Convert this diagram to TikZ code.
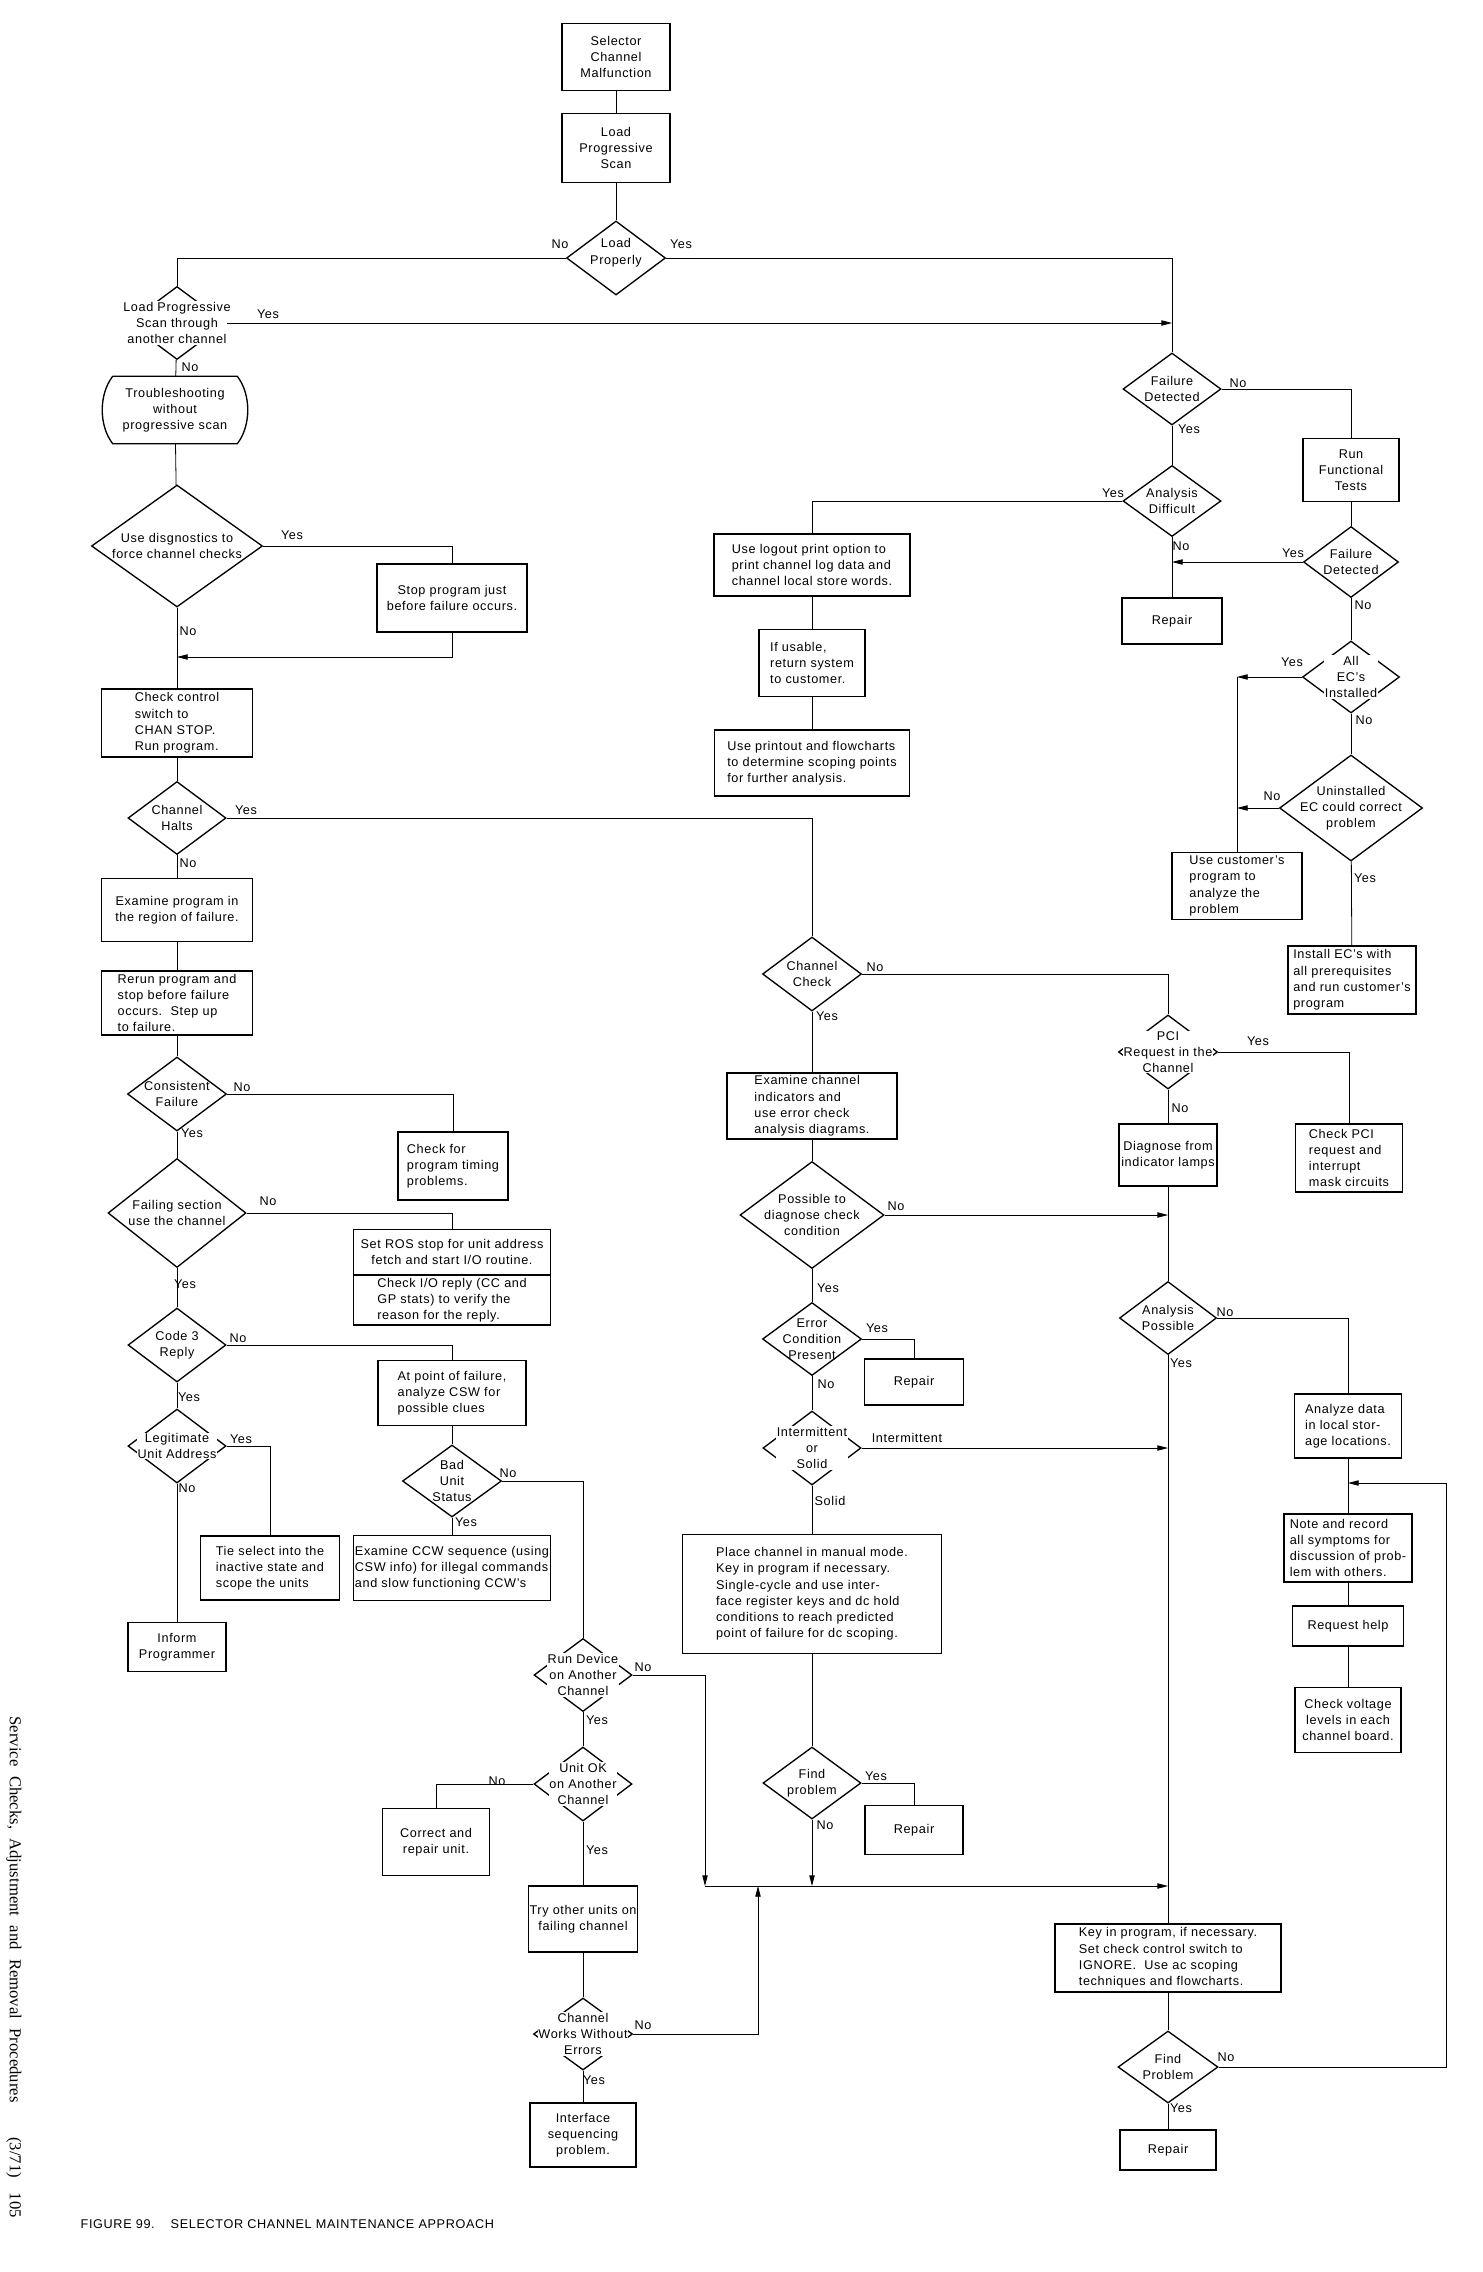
\documentclass[tikz,border=0pt]{standalone}
\usepackage{fontspec}
\setmainfont{Liberation Sans}[LetterSpace=5]
\newfontfamily\sidefont{Liberation Serif}
\usetikzlibrary{arrows.meta, shapes.geometric, calc}

\tikzset{
  box/.style 2 args={draw, line width=1pt, minimum width=#1*0.75pt,
    minimum height=#2*0.75pt, inner sep=1pt, align=center},
  lbox/.style 2 args={box={#1}{#2}, align=left},
  dec/.style 2 args={diamond, draw, line width=1pt, inner sep=0pt,
    minimum width=#1*0.75pt, minimum height=#2*0.75pt},
  dtext/.style={align=center, inner sep=0.5pt},
  dtextw/.style={dtext, fill=white},
  lab/.style={inner sep=0pt},
  link/.style={line width=0.6pt},
}

\begin{document}
\begin{tikzpicture}[x=0.75pt, y=-0.75pt, font=\fontsize{9.5}{12.2}\selectfont,
  >={Triangle[length=8pt,width=4pt]}]
  \fill[white] (0,0) rectangle (1482,2272);
  \useasboundingbox (0,0) rectangle (1482,2272);

  % Top of the chart
  \node[box={108}{67}] (scm) at (616,57) {Selector\\Channel\\Malfunction};
  \node[box={108}{69}] (lps) at (616,148) {Load\\Progressive\\Scan};
  \node[dec={99}{74}, label={[dtext, yshift=4pt]center:{Load\\Properly}}] (ldp) at (616,258) {};

  % Left column
  \node[dec={98}{73}, label={[dtextw]center:{Load Progressive\\Scan through\\another channel}}] (another) at (177,323) {};
  \node[minimum width=124*0.75pt, minimum height=67*0.75pt, align=center] (trouble) at (175,410) {Troubleshooting\\without\\progressive scan};
  \draw[line width=1pt] (trouble.north west) -- (trouble.north east)
    .. controls +(14,18) and +(14,-18) .. (trouble.south east) -- (trouble.south west)
    .. controls +(-14,-18) and +(-14,18) .. (trouble.north west);
  \node[dec={171}{122}, label={[dtext]center:{Use disgnostics to\\force channel checks}}] (diag) at (177,546) {};
  \node[box={150}{68}] (stop) at (452,598) {Stop program just\\before failure occurs.};
  \node[lbox={151}{68}] (ccs) at (177,723) {Check control\\switch to\\CHAN STOP.\\Run program.};
  \node[dec={98}{73}, label={[dtext]center:{Channel\\Halts}}] (chalt) at (177,818) {};
  \node[box={151}{63}] (exprog) at (177,910) {Examine program in\\the region of failure.};
  \node[lbox={151}{64}] (rerun) at (177,1003) {Rerun program and\\stop before failure\\occurs.\ \ Step up\\to failure.};
  \node[dec={99}{74}, label={[dtext]center:{Consistent\\Failure}}] (consist) at (177,1094) {};
  \node[lbox={110}{68}] (chkfor) at (453,1166) {Check for\\program timing\\problems.};
  \node[dec={138}{109}, label={[dtext]center:{Failing section\\use the channel}}] (failsec) at (177,1213) {};
  \node[box={197}{45}] (setros) at (452,1252) {Set ROS stop for unit address\\fetch and start I/O routine.};
  \node[lbox={197}{50}] (chkio) at (452,1300) {Check I/O reply (CC and\\GP stats) to verify the\\reason for the reply.};
  \node[dec={98}{74}, label={[dtext]center:{Code 3\\Reply}}] (code3) at (177,1345) {};
  \node[lbox={148}{65}] (atpoint) at (452,1393) {At point of failure,\\analyze CSW for\\possible clues};
  \node[dec={99}{72}, label={[dtext]center:{Bad\\Unit\\Status}}] (badunit) at (452,1481) {};
  \node[lbox={196}{65}] (exccw) at (452,1568) {Examine CCW sequence (using\\CSW info) for illegal commands\\and slow functioning CCW's};
  \node[dec={98}{74}, label={[dtextw]center:{Legitimate\\Unit Address}}] (legit) at (177,1446) {};
  \node[lbox={139}{64}] (tie) at (270,1568) {Tie select into the\\inactive state and\\scope the units};
  \node[box={98}{49}] (inform) at (177,1647) {Inform\\Programmer};
  \node[dec={98}{73}, label={[dtextw]center:{Run Device\\on Another\\Channel}}] (rundev) at (583,1675) {};
  \node[dec={98}{74}, label={[dtextw]center:{Unit OK\\on Another\\Channel}}] (unitok) at (583,1784) {};
  \node[box={107}{67}] (correct) at (436,1842) {Correct and\\repair unit.};
  \node[box={107}{66}] (tryother) at (583,1919) {Try other units on\\failing channel};
  \node[dec={99}{72}, label={[dtextw]center:{Channel\\Works Without\\Errors}}] (chworks) at (583,2034) {};
  \node[box={106}{64}] (iface) at (583,2135) {Interface\\sequencing\\problem.};

  % Middle column
  \node[lbox={196}{62}] (logout) at (812,565) {Use logout print option to\\print channel log data and\\channel local store words.};
  \node[lbox={106}{67}] (usable) at (812,663) {If usable,\\return system\\to customer.};
  \node[lbox={195}{66}] (printout) at (812,763) {Use printout and flowcharts\\to determine scoping points\\for further analysis.};
  \node[dec={99}{74}, label={[dtext]center:{Channel\\Check}}] (chcheck) at (812,974) {};
  \node[lbox={170}{66}] (exchan) at (812,1106) {Examine channel\\indicators and\\use error check\\analysis diagrams.};
  \node[dec={144}{107}, label={[dtext]center:{Possible to\\diagnose check\\condition}}] (possible) at (812,1215) {};
  \node[dec={99}{73}, label={[dtext]center:{Error\\Condition\\Present}}] (errcond) at (812,1339) {};
  \node[box={99}{46}] (repair2) at (914,1382) {Repair};
  \node[dec={98}{74}, label={[dtextw]center:{Intermittent\\or\\Solid}}] (intsol) at (812,1448) {};
  \node[lbox={259}{119}] (manual) at (812,1594) {Place channel in manual mode.\\Key in program if necessary.\\Single-cycle and use inter-\\face register keys and dc hold\\conditions to reach predicted\\point of failure for dc scoping.};
  \node[dec={98}{72}, label={[dtext]center:{Find\\problem}}] (findp) at (812,1783) {};
  \node[box={98}{49}] (repair4) at (914,1830) {Repair};

  % Right columns
  \node[dec={98}{72}, label={[dtext]center:{Failure\\Detected}}] (fd1) at (1172,389) {};
  \node[dec={98}{71}, label={[dtext]center:{Analysis\\Difficult}}] (anadiff) at (1172,501) {};
  \node[box={100}{46}] (repair1) at (1172,621) {Repair};
  \node[box={96}{63}] (runft) at (1351,470) {Run\\Functional\\Tests};
  \node[dec={95}{71}, label={[dtext]center:{Failure\\Detected}}] (fd2) at (1351,562) {};
  \node[dec={97}{72}, label={[dtextw]center:{All\\EC's\\Installed}}] (allec) at (1351,677) {};
  \node[dec={143}{106}, label={[dtext]center:{Uninstalled\\EC could correct\\problem}}] (uninst) at (1351,808) {};
  \node[lbox={130}{67}] (usecust) at (1237,886) {Use customer's\\program to\\analyze the\\problem};
  \node[lbox={128}{68}] (install) at (1352,980) {Install EC's with\\all prerequisites\\and run customer's\\program};
  \node[dec={99}{74}, label={[dtextw]center:{PCI\\Request in the\\Channel}}] (pci) at (1168,1052) {};
  \node[lbox={107}{68}] (checkpci) at (1349,1158) {Check PCI\\request and\\interrupt\\mask circuits};
  \node[box={98}{62}] (diaglamp) at (1168,1155) {Diagnose from\\indicator lamps};
  \node[dec={97}{73}, label={[dtext]center:{Analysis\\Possible}}] (anaposs) at (1168,1318) {};
  \node[lbox={107}{64}] (analyze) at (1348,1426) {Analyze data\\in local stor-\\age locations.};
  \node[lbox={128}{68}] (note) at (1348,1548) {Note and record\\all symptoms for\\discussion of prob-\\lem with others.};
  \node[box={111}{40}] (request) at (1348,1626) {Request help};
  \node[box={106}{65}] (voltage) at (1348,1720) {Check voltage\\levels in each\\channel board.};
  \node[lbox={226}{68}] (keyin) at (1168,1958) {Key in program, if necessary.\\Set check control switch to\\IGNORE.\ \ Use ac scoping\\techniques and flowcharts.};
  \node[dec={100}{72}, label={[dtextw]center:{Find\\Problem}}] (findp2) at (1168,2067) {};
  \node[box={96}{40}] (repair3) at (1168,2150) {Repair};

  % Join points
  \coordinate (jstop) at (177,657);
  \coordinate (m1) at (705,1886);
  \coordinate (m2) at (758,1886);
  \coordinate (jnote) at (1348,1483);
  \coordinate (rloop) at (1446,1483);

  % Connectors
  \draw[link] (scm) -- (lps);
  \draw[link] (lps) -- (ldp);
  \draw[link] (ldp.west) -| (another.north);
  \draw[link] (ldp.east) -| (fd1.north);
  \draw[link,->] (another.east) -- (another.east -| fd1.north);
  \draw[link] (another) -- (trouble);
  \draw[link] (trouble) -- (diag);
  \draw[link] (diag.east) -| (stop.north);
  \draw[link] (diag) -- (ccs);
  \draw[link,->] (stop.south) |- (jstop);
  \draw[link] (ccs) -- (chalt);
  \draw[link] (chalt.east) -| (chcheck.north);
  \draw[link] (chalt) -- (exprog);
  \draw[link] (exprog) -- (rerun);
  \draw[link] (rerun) -- (consist);
  \draw[link] (consist.east) -| (chkfor.north);
  \draw[link] (consist) -- (failsec);
  \draw[link] (failsec.east) -| (setros.north);
  \draw[link] (failsec) -- (code3);
  \draw[link] (code3.east) -| (atpoint.north);
  \draw[link] (code3) -- (legit);
  \draw[link] (atpoint) -- (badunit);
  \draw[link] (badunit) -- (exccw);
  \draw[link] (badunit.east) -| (rundev.north);
  \draw[link] (legit.east) -| (tie.north);
  \draw[link] (legit) -- (inform);
  \draw[link] (rundev) -- (unitok);
  \draw[link,->] (rundev.east) -| (m1);
  \draw[link] (unitok.west) -| (correct.north);
  \draw[link] (unitok) -- (tryother);
  \draw[link] (tryother) -- (chworks);
  \draw[link] (chworks) -- (iface);
  \draw[link,->] (chworks.east) -| (m2);
  \draw[link,->] (m1) -- (m1 -| keyin.north);
  \draw[link,->] (findp) -- (findp |- m1);
  \draw[link] (findp.east) -| (repair4.north);
  \draw[link] (chcheck.east) -| (pci.north);
  \draw[link] (chcheck) -- (exchan);
  \draw[link] (exchan) -- (possible);
  \draw[link,->] (possible.east) -- (possible.east -| pci.south);
  \draw[link] (possible) -- (errcond);
  \draw[link] (errcond.east) -| (repair2.north);
  \draw[link] (errcond) -- (intsol);
  \draw[link,->] (intsol.east) -- (intsol.east -| anaposs.south);
  \draw[link] (intsol) -- (manual);
  \draw[link] (manual) -- (findp);
  \draw[link] (fd1) -- (anadiff);
  \draw[link] (fd1.east) -| (runft.north);
  \draw[link] (anadiff.west) -| (logout.north);
  \draw[link] (anadiff) -- (repair1);
  \draw[link] (logout) -- (usable);
  \draw[link] (usable) -- (printout);
  \draw[link] (runft) -- (fd2);
  \draw[link,->] (fd2.west) -- (fd2.west -| anadiff.south);
  \draw[link] (fd2) -- (allec);
  \draw[link,->] (allec.west) -- (allec.west -| usecust.north);
  \draw[link] (allec.west -| usecust.north) -- (usecust.north);
  \draw[link,->] (uninst.west) -- (uninst.west -| usecust.north);
  \draw[link] (allec) -- (uninst);
  \draw[link] (uninst) -- (install);
  \draw[link] (pci.east) -| (checkpci.north);
  \draw[link] (pci) -- (diaglamp);
  \draw[link] (diaglamp) -- (anaposs);
  \draw[link] (anaposs.east) -| (analyze.north);
  \draw[link] (anaposs) -- (keyin);
  \draw[link] (analyze) -- (note);
  \draw[link] (note) -- (request);
  \draw[link] (request) -- (voltage);
  \draw[link] (keyin) -- (findp2);
  \draw[link] (findp2) -- (repair3);
  \draw[link,->] (findp2.east) -| (rloop) -- (jnote);

  % Yes / No labels
  \foreach \x/\y/\t [count=\i] in {
    560/244/No, 681/244/Yes, 268/314/Yes, 190/367/No, 292/535/Yes, 188/631/No,
    246/810/Yes, 188/863/No, 242/1087/No, 192/1133/Yes, 268/1201/No, 185/1284/Yes,
    238/1338/No, 189/1397/Yes, 241/1439/Yes, 187/1488/No, 508/1473/No, 466/1522/Yes,
    643/1667/No, 597/1720/Yes, 497/1781/No, 597/1850/Yes, 643/2025/No, 594/2080/Yes,
    875/967/No, 827/1016/Yes, 896/1206/No, 828/1288/Yes, 877/1328/Yes, 826/1384/No,
    907/1438/Intermittent, 830/1501/Solid, 876/1776/Yes, 825/1825/No,
    1238/383/No, 1189/429/Yes, 1113/493/Yes, 1181/546/No, 1293/553/Yes, 1363/605/No,
    1292/662/Yes, 1364/720/No, 1272/796/No, 1365/878/Yes, 1258/1041/Yes, 1180/1108/No,
    1225/1312/No, 1181/1363/Yes, 1226/2057/No, 1181/2108/Yes
  }{
    \node[lab] (lab\i) at (\x,\y) {\t};
  }

  % Caption and page margin text
  \node[anchor=west] (cap) at (76,2224) {FIGURE 99.\hspace{12pt}SELECTOR CHANNEL MAINTENANCE APPROACH};
  \node[rotate=-90, anchor=west, font=\sidefont\fontsize{12.5}{15}\selectfont] (side) at (14,1712)
    {{\spaceskip=7pt Service Checks, Adjustment and Removal Procedures}\hspace{26pt}(3/71)\hspace{11pt}105};
\end{tikzpicture}
\end{document}
